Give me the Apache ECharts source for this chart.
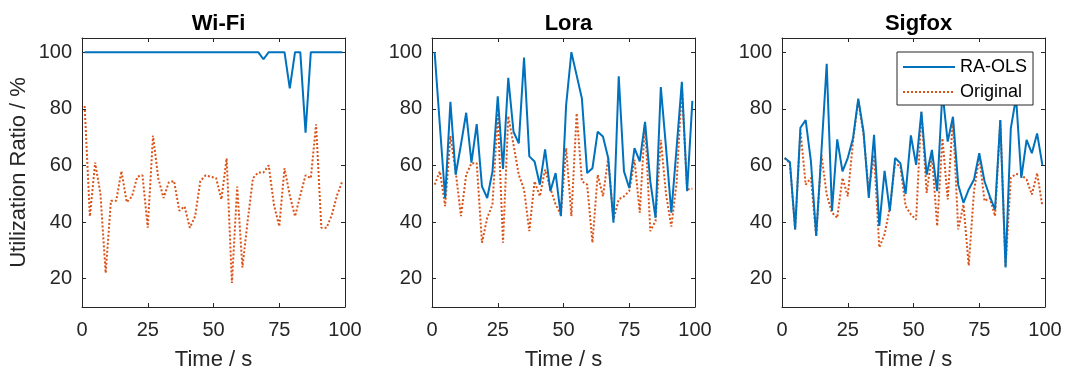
<!DOCTYPE html>
<html>
<head>
<meta charset="utf-8">
<script src="https://cdn.jsdelivr.net/npm/echarts@6/dist/echarts.min.js"></script>
<style>
html,body{margin:0;padding:0;background:#fff;}
#chart{width:1067px;height:376px;}
</style>
</head>
<body>
<div id="chart"></div>
<script>
// Time stamps (s)
const time = [1,3,5,7,9,11,13,15,17,19,21,23,25,27,29,31,33,35,37,39,41,43,45,47,49,
              51,53,55,57,59,61,63,65,67,69,71,73,75,77,79,81,83,85,87,89,91,93,95,97,99];

const panelTitles = ['Wi-Fi', 'Lora', 'Sigfox'];
const seriesNames = ['RA-OLS', 'Original'];
const xTicks = [0, 25, 50, 75, 100];
const yTicks = [20, 40, 60, 80, 100];

const wifiRA = [100,100,100,100,100,100,100,100,100,100,100,100,100,100,100,100,100,100,100,100,
                100,100,100,100,100,100,100,100,100,100,100,100,100,100,97.5,100,100,100,100,87.2,
                100,100,71.6,100,100,100,100,100,100,100];
const wifiOrig = [81,42,61,50,22,47.5,47.5,58,47,49,56,56.5,38,70.5,55.5,48.5,54,54.5,44,45.5,
                  38,42,54.5,56.5,56,55.5,48,62.5,18.5,52.5,24,40.5,55.5,57.5,57.5,60,46,38.5,59,49.5,
                  42,49.5,56.5,55.5,74.5,38,38,42.5,49.5,54.5];

const loraRA = [100,74,48.5,82.5,56.7,67.3,78.6,61,74.6,52.6,48.5,57.9,84.4,58.8,90.9,71.9,67.8,98.1,63.2,61.4,
                53.2,65.7,50.9,57.3,42.1,81.3,100,91.8,83.6,57.3,59,71.9,70.2,62.6,39.8,91.5,57.9,52,66.1,61.4,
                75.4,54.4,41.5,87.7,66.1,43.3,66.1,89.5,50.9,82.8];
const loraOrig = [53.2,57.9,45.6,70.4,57.9,42.1,56.7,60.8,60.8,32.7,41.5,46.2,78.4,32.7,77.4,67.3,56.7,51.5,36.8,54.4,
                  49.1,58.5,52,46.2,42.7,66.1,42.1,78.4,54.4,53.2,32.7,56.7,49.1,62.6,40.9,48,49.1,50.9,62,43.3,
                  75.2,36.8,40.4,69,49.7,38.4,53.8,87.7,51.5,51.8];

const sigfoxRA = [62.6,61.2,37.4,73.3,76,61.4,35.1,65,95.9,43.9,69.2,57.9,62.6,69.6,83.6,71.9,48.5,70.8,38.6,58.1,
                  43.9,62.6,60.8,49.9,70.6,60.2,78.9,56.7,65.5,50.9,86,68.4,77.2,53.2,46.8,51.5,55,64.3,54.4,49.1,
                  44.4,76,24,73.1,84,55.6,69,64.3,71.3,60.2];
const sigfoxOrig = [62.6,60.8,37.4,72.5,53.2,55.6,35.1,63.7,49.7,43.3,41.5,55.6,49.1,68.4,83,70.8,50.9,63.7,31,35.7,
                    45,60.8,59.6,45.6,42.7,40.9,78.9,50.3,63.7,38.6,69.6,48,76.6,37.4,46.2,24.6,50.9,63.2,47.4,48.5,
                    42.1,76,24.6,55.6,57,56.7,55,49.7,57.3,45.6];

const panels = [[wifiRA, wifiOrig], [loraRA, loraOrig], [sigfoxRA, sigfoxOrig]];

const FONT = '"Liberation Sans", Arial, Helvetica, sans-serif';
const AX = '#262626';
const BLUE = '#0072BD';
const ORANGE = '#D95319';
const lefts = [82, 432, 782];
const W = 263, TOP = 38, H = 270;

function pairs(vals){ return time.map((t, i) => [t, vals[i]]); }

const grids = [], xAxes = [], yAxes = [], series = [], titles = [];
panels.forEach((p, g) => {
  grids.push({left: lefts[g], top: TOP, width: W, height: H, containLabel: false});
  titles.push({
    text: panelTitles[g], left: lefts[g] + W / 2, top: 8, textAlign: 'center',
    textStyle: {fontFamily: FONT, fontSize: 22, fontWeight: 'bold', color: '#000'}
  });
  const common = {
    gridIndex: g, type: 'value', min: 0, max: 100, interval: 25,
    axisLine: {show: true, onZero: false, lineStyle: {color: AX, width: 1}},
    axisTick: {show: true, inside: true, length: 4, lineStyle: {color: AX}},
    splitLine: {show: false}
  };
  xAxes.push(Object.assign({}, common, {
    position: 'bottom',
    axisLabel: {fontFamily: FONT, fontSize: 20, color: AX, margin: 13,
                customValues: xTicks},
    name: 'Time / s', nameLocation: 'middle', nameGap: 42,
    nameTextStyle: {fontFamily: FONT, fontSize: 22, color: AX}
  }));
  xAxes.push(Object.assign({}, common, {position: 'top', axisLabel: {show: false}}));
  const ycommon = {
    gridIndex: g, type: 'value', min: 10, max: 105,
    axisLine: {show: true, onZero: false, lineStyle: {color: AX, width: 1}},
    axisTick: {show: true, inside: true, length: 4, lineStyle: {color: AX}, customValues: yTicks},
    splitLine: {show: false}
  };
  const yl = Object.assign({}, ycommon, {
    position: 'left',
    axisLabel: {fontFamily: FONT, fontSize: 20, color: AX, margin: 10, customValues: yTicks}
  });
  if (g === 0) {
    Object.assign(yl, {
      name: 'Utilization Ratio / %', nameLocation: 'middle', nameGap: 52,
      nameTextStyle: {fontFamily: FONT, fontSize: 22, color: AX}
    });
  }
  yAxes.push(yl);
  yAxes.push(Object.assign({}, ycommon, {position: 'right', axisLabel: {show: false}}));

  series.push({
    name: seriesNames[0], type: 'line', xAxisIndex: 2 * g, yAxisIndex: 2 * g,
    data: pairs(p[0]), symbol: 'none', smooth: false, z: 3,
    lineStyle: {color: BLUE, width: 2}, itemStyle: {color: BLUE}
  });
  series.push({
    name: seriesNames[1], type: 'line', xAxisIndex: 2 * g, yAxisIndex: 2 * g,
    data: pairs(p[1]), symbol: 'none', smooth: false, z: 2,
    lineStyle: {color: ORANGE, width: 2, type: [2, 2]}, itemStyle: {color: ORANGE}
  });
});

const chart = echarts.init(document.getElementById('chart'), null, {renderer: 'canvas'});
chart.setOption({
  animation: false,
  backgroundColor: '#fff',
  title: titles,
  grid: grids,
  xAxis: xAxes,
  yAxis: yAxes,
  series: series,
  legend: {
    data: seriesNames,
    orient: 'vertical',
    left: 897, top: 52,
    padding: [5, 6, 3, 5],
    itemGap: 5,
    itemWidth: 52, itemHeight: 14,
    itemStyle: {color: 'rgba(0,0,0,0)', borderWidth: 0, borderColor: 'rgba(0,0,0,0)'},
    backgroundColor: '#fff',
    borderColor: AX, borderWidth: 1,
    textStyle: {fontFamily: FONT, fontSize: 18, color: '#000', lineHeight: 20},
    z: 10
  }
});
</script>
</body>
</html>
